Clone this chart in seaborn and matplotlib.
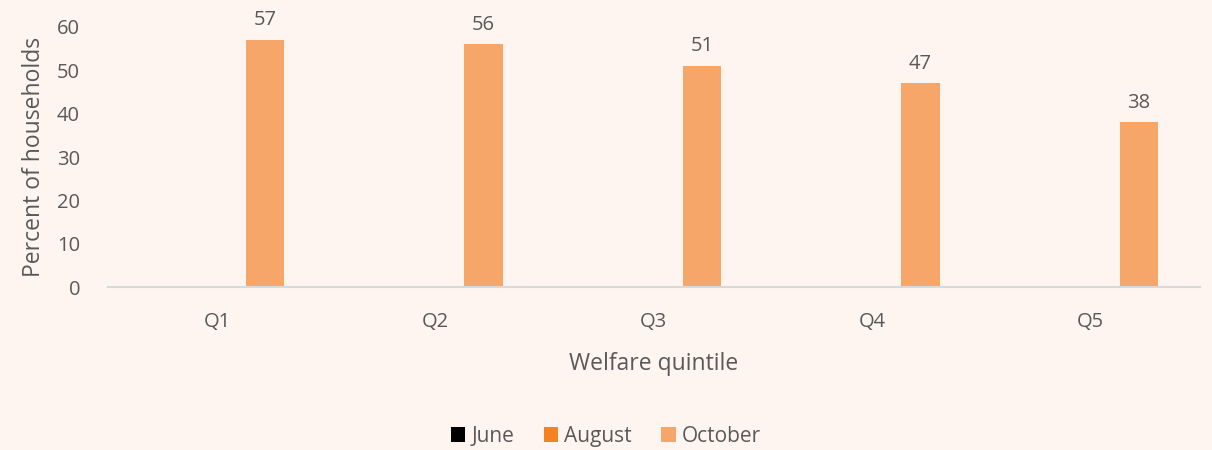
import pandas as pd
import numpy as np
import seaborn as sns
import matplotlib.pyplot as plt

# values (June / August have no bars shown)
quintiles = ["Q1", "Q2", "Q3", "Q4", "Q5"]
months = ["June", "August", "October"]
june = [0, 0, 0, 0, 0]
august = [0, 0, 0, 0, 0]
october = [57, 56, 51, 47, 38]

colors = {"June": "#000000", "August": "#F58220", "October": "#F7A66A"}
bg = "#FEF5F0"
text_col = "#595959"

df = pd.DataFrame({
    "quintile": quintiles * 3,
    "month": ["June"] * 5 + ["August"] * 5 + ["October"] * 5,
    "value": june + august + october,
})

sns.set_theme(style="white")
plt.rcParams['font.family'] = ['Open Sans', 'DejaVu Sans']
plt.rcParams['text.color'] = text_col
plt.rcParams['axes.labelcolor'] = text_col
plt.rcParams['xtick.color'] = text_col
plt.rcParams['ytick.color'] = text_col

fig = plt.figure(figsize=(12.12, 4.5), dpi=100, facecolor=bg)
ax = fig.add_axes([0.089, 0.362, 0.901, 0.578])
ax.set_facecolor(bg)

sns.barplot(data=df, x="quintile", y="value", hue="month", hue_order=months,
            palette=colors, width=0.66, gap=0.2, ax=ax, legend=True,
            saturation=1, errorbar=None, linewidth=0)

# label October bars only
ax.bar_label(ax.containers[2], fmt="%d", padding=7, fontsize=14.5, color=text_col)

ax.set_ylim(0, 60)
ax.set_xlim(-0.5, 4.5)
ax.set_yticks(np.arange(0, 61, 10))
ax.tick_params(axis="both", labelsize=14.5, length=0)
ax.tick_params(axis="x", pad=18)
ax.tick_params(axis="y", pad=20)
ax.set_xlabel("Welfare quintile", fontsize=16.5, labelpad=14)
ax.set_ylabel("Percent of households", fontsize=16.5, labelpad=8)

for side in ["top", "right", "left"]:
    ax.spines[side].set_visible(False)
ax.spines["bottom"].set_color("#D9D9D9")
ax.spines["bottom"].set_linewidth(1.5)

handles, labels = ax.get_legend_handles_labels()
ax.get_legend().remove()
fig.legend(handles, labels, loc="center", bbox_to_anchor=(0.5, 0.03), ncol=3,
           frameon=False, fontsize=15, handlelength=0.7, handleheight=0.7,
           handletextpad=0.3, columnspacing=1.4)

fig.savefig("out.png", dpi=100, facecolor=bg)
